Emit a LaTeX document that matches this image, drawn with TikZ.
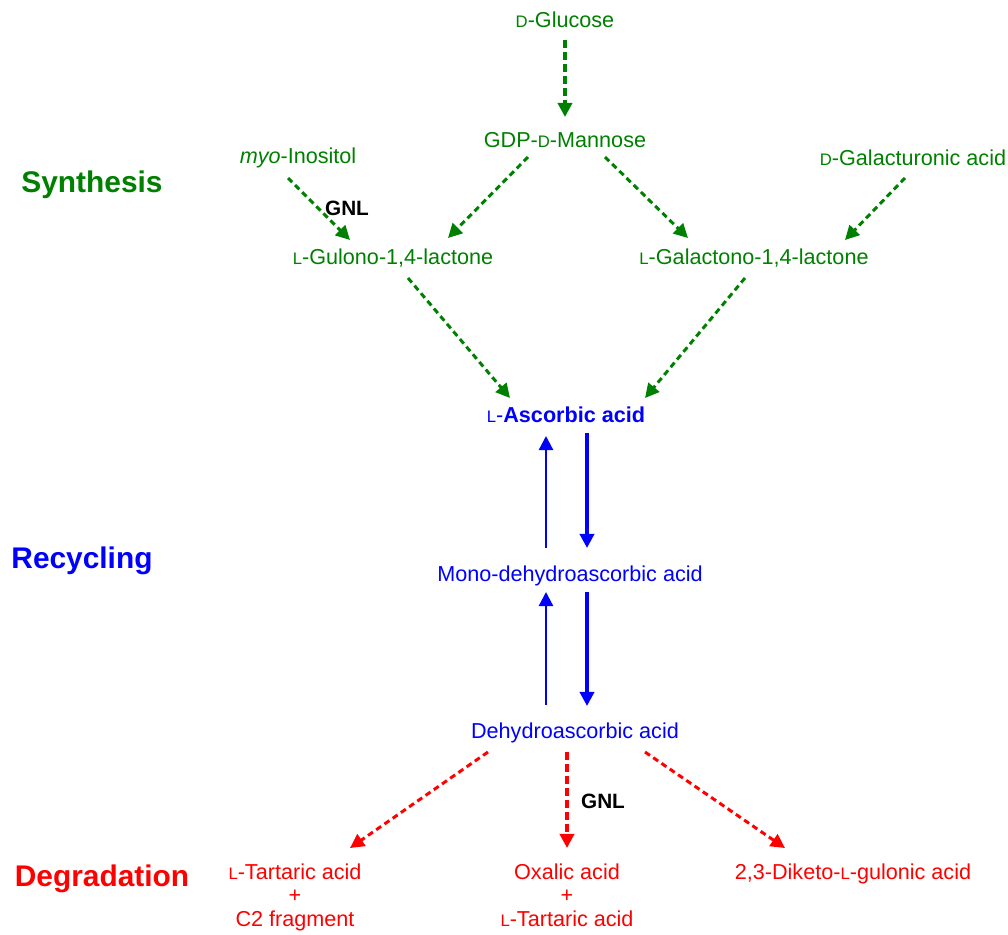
\documentclass[tikz,border=0pt]{standalone}
\usepackage{fontspec}
\setmainfont{Liberation Sans}
\usetikzlibrary{arrows.meta, calc}
\usepackage{xcolor}

\definecolor{synthgreen}{RGB}{0,128,0}
\definecolor{recycblue}{RGB}{0,0,255}
\definecolor{degrred}{RGB}{255,0,0}

% small capital D and L
\newcommand{\scD}{{\fontsize{9.5}{10}\selectfont D}}
\newcommand{\scL}{{\fontsize{9.5}{10}\selectfont L}}

\tikzset{
  compound/.style={inner sep=0pt, font=\fontsize{12.3}{13.6}\selectfont},
  stage/.style={inner sep=0pt, font=\fontsize{17}{20}\selectfont\bfseries},
  enzyme/.style={inner sep=0pt, font=\fontsize{11.8}{13}\selectfont\bfseries},
  synarrow/.style={draw=synthgreen, line width=1.7pt, dash pattern=on 3.4pt off 2.3pt,
    -{Triangle[length=8pt,width=8pt]}},
  synthick/.style={synarrow, line width=2.8pt, dash pattern=on 4.5pt off 2.3pt},
  recup/.style={draw=recycblue, line width=1.3pt, -{Triangle[length=8pt,width=8pt]}},
  recdown/.style={draw=recycblue, line width=2.6pt, -{Triangle[length=8pt,width=8pt]}},
  degarrow/.style={draw=degrred, line width=1.7pt, dash pattern=on 3.4pt off 2.3pt,
    -{Triangle[length=8pt,width=8pt]}},
  degthick/.style={degarrow, line width=2.8pt, dash pattern=on 4.5pt off 2.3pt}
}

\begin{document}
\begin{tikzpicture}[x=0.02cm, y=-0.02cm]
  \useasboundingbox (0,0) rectangle (1008,934);

  % stage labels
  \node[stage, text=synthgreen] (synthesis) at (92,185) {Synthesis};
  \node[stage, text=recycblue] (recycling) at (82,561) {Recycling};
  \node[stage, text=degrred] (degradation) at (102,879) {Degradation};

  % synthesis
  \node[compound, text=synthgreen] (glc) at (565,20) {\scD-Glucose};
  \node[compound, text=synthgreen] (gdp) at (565,140) {GDP-\scD-Mannose};
  \node[compound, text=synthgreen] (myo) at (298,158) {\textit{myo}-Inositol};
  \node[compound, text=synthgreen] (galA) at (913,158) {\scD-Galacturonic acid};
  \node[compound, text=synthgreen] (gul) at (393,258) {\scL-Gulono-1,4-lactone};
  \node[compound, text=synthgreen] (gal) at (754,258) {\scL-Galactono-1,4-lactone};
  \node[enzyme] (gnlA) at (347,208) {GNL};

  % recycling
  \node[compound, text=recycblue] (asc) at (566,415) {\scL-\textbf{Ascorbic acid}};
  \node[compound, text=recycblue] (mono) at (570,576) {Mono-dehydroascorbic acid};
  \node[compound, text=recycblue] (dehy) at (575,733) {Dehydroascorbic acid};

  % degradation
  \node[compound, text=degrred, align=center, anchor=north] (tart) at (295,863)
    {\scL-Tartaric acid\\+\\C2 fragment};
  \node[compound, text=degrred, align=center, anchor=north] (ox) at (567,863)
    {Oxalic acid\\+\\\scL-Tartaric acid};
  \node[compound, text=degrred, anchor=north] (dik) at (853,863)
    {2,3-Diketo-\scL-gulonic acid};
  \node[enzyme] (gnlB) at (603,801) {GNL};

  % synthesis arrows
  \draw[synthick] ($(glc)+(0,20)$) -- ($(gdp)+(0,-23)$);
  \draw[synarrow] ($(myo)+(-10,20)$) -- ($(gul)+(-43,-18)$);
  \draw[synarrow] ($(gdp)+(-37,17)$) -- ($(gul)+(55,-20)$);
  \draw[synarrow] ($(gdp)+(40,17)$) -- ($(gal)+(-66,-20)$);
  \draw[synarrow] ($(galA)+(-8,20)$) -- ($(gal)+(91,-18)$);
  \draw[synarrow] ($(gul)+(15,20)$) -- ($(asc)+(-56,-17)$);
  \draw[synarrow] ($(gal)+(-9,20)$) -- ($(asc)+(79,-17)$);

  % recycling arrows
  \draw[recup] ($(mono)+(-24,-28)$) -- ($(asc)+(-20,21)$);
  \draw[recdown] ($(asc)+(21,18)$) -- ($(mono)+(17,-28)$);
  \draw[recup] ($(dehy)+(-29,-28)$) -- ($(mono)+(-24,16)$);
  \draw[recdown] ($(mono)+(17,16)$) -- ($(dehy)+(12,-27)$);

  % degradation arrows
  \draw[degarrow] ($(dehy)+(-87,19)$) -- ($(tart.north)+(55,-15)$);
  \draw[degthick] ($(dehy)+(-8,19)$) -- ($(ox.north)+(0,-15)$);
  \draw[degarrow] ($(dehy)+(70,19)$) -- ($(dik.north)+(-68,-15)$);
\end{tikzpicture}
\end{document}
